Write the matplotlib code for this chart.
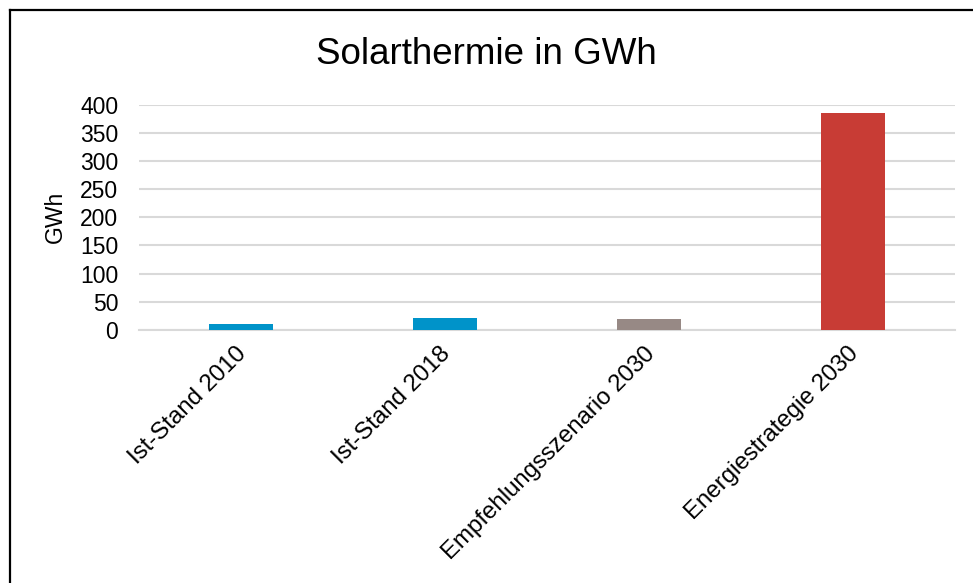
import matplotlib.pyplot as plt
import matplotlib.transforms as mtransforms
from matplotlib.lines import Line2D

categories = ['Ist-Stand 2010', 'Ist-Stand 2018', 'Empfehlungsszenario 2030', 'Energiestrategie 2030']
values = [11, 21, 20, 385]
colors = ['#0093C9', '#0093C9', '#978985', '#C83C35']
yticks = [0, 50, 100, 150, 200, 250, 300, 350, 400]

plt.rcParams['font.family'] = ['Liberation Sans', 'DejaVu Sans']

fig = plt.figure(figsize=(9.73, 5.83), dpi=100)
ax = fig.add_axes([0.1429, 0.434, 0.8386, 0.3866])

x = range(len(categories))
ax.bar(x, values, width=0.315, color=colors, zorder=3)

ax.set_xlim(-0.5, len(categories) - 0.5)
ax.set_ylim(0, 400)
ax.set_yticks(yticks)
ax.tick_params(axis='y', labelsize=16.5, length=0, pad=15)
ax.tick_params(axis='x', length=0, pad=9)
ax.set_xticks(list(x))
ax.set_xticklabels(categories, rotation=45, ha='right', va='top',
                   rotation_mode='anchor', fontsize=17.3)
# nudge the rotated labels a little to the left
shift = mtransforms.ScaledTranslation(-4 / 72, 0, fig.dpi_scale_trans)
for lbl in ax.get_xticklabels():
    lbl.set_transform(lbl.get_transform() + shift)

ax.grid(axis='y', color='#D9D9D9', linewidth=1.5, zorder=0)
for side in ['top', 'right', 'left']:
    ax.spines[side].set_visible(False)
ax.spines['bottom'].set_color('#D9D9D9')
ax.spines['bottom'].set_linewidth(1.5)

ax.set_ylabel('GWh', fontsize=16.5)
ax.yaxis.set_label_coords(-0.088, 0.5)

fig.text(0.5, 0.907, 'Solarthermie in GWh', ha='center', va='center', fontsize=26.5)

# chart frame, cut off at the right and bottom edges
fx, fy = 9.5 / 973, 1 - 9.5 / 583
fig.add_artist(Line2D([fx, 1.0], [fy, fy], color='black', linewidth=1.6))
fig.add_artist(Line2D([fx, fx], [0.0, fy], color='black', linewidth=1.6))

fig.savefig('out.png', dpi=100)
